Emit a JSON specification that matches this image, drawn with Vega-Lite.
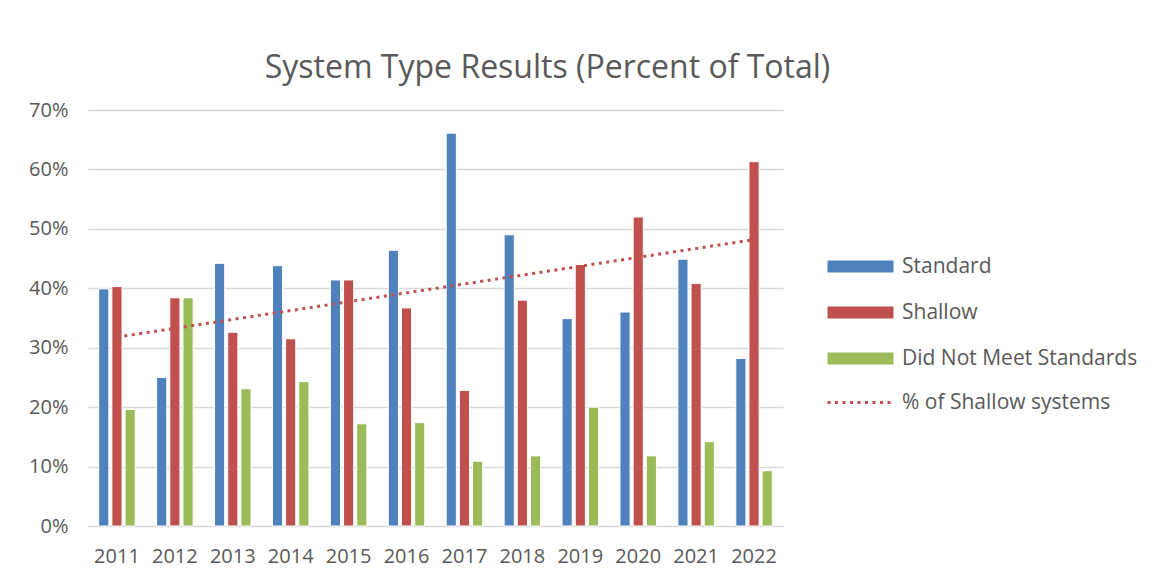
{
  "$schema": "https://vega.github.io/schema/vega-lite/v6.json",
  "width": 695,
  "height": 416,
  "autosize": {"type": "none"},
  "padding": {"left": 88, "top": 110, "right": 369, "bottom": 58},
  "background": "white",
  "title": {
    "text": "System Type Results (Percent of Total)",
    "font": "Open Sans",
    "fontSize": 32,
    "fontWeight": "normal",
    "color": "#595959",
    "anchor": "middle",
    "dx": 112,
    "offset": 15
  },
  "data": {
    "values": [
      {"year": 2011, "series": "Standard", "value": 0.399},
      {"year": 2011, "series": "Shallow", "value": 0.403},
      {"year": 2011, "series": "Did Not Meet Standards", "value": 0.196},
      {"year": 2012, "series": "Standard", "value": 0.250},
      {"year": 2012, "series": "Shallow", "value": 0.384},
      {"year": 2012, "series": "Did Not Meet Standards", "value": 0.384},
      {"year": 2013, "series": "Standard", "value": 0.442},
      {"year": 2013, "series": "Shallow", "value": 0.326},
      {"year": 2013, "series": "Did Not Meet Standards", "value": 0.231},
      {"year": 2014, "series": "Standard", "value": 0.438},
      {"year": 2014, "series": "Shallow", "value": 0.315},
      {"year": 2014, "series": "Did Not Meet Standards", "value": 0.243},
      {"year": 2015, "series": "Standard", "value": 0.414},
      {"year": 2015, "series": "Shallow", "value": 0.414},
      {"year": 2015, "series": "Did Not Meet Standards", "value": 0.172},
      {"year": 2016, "series": "Standard", "value": 0.464},
      {"year": 2016, "series": "Shallow", "value": 0.367},
      {"year": 2016, "series": "Did Not Meet Standards", "value": 0.174},
      {"year": 2017, "series": "Standard", "value": 0.661},
      {"year": 2017, "series": "Shallow", "value": 0.228},
      {"year": 2017, "series": "Did Not Meet Standards", "value": 0.109},
      {"year": 2018, "series": "Standard", "value": 0.490},
      {"year": 2018, "series": "Shallow", "value": 0.380},
      {"year": 2018, "series": "Did Not Meet Standards", "value": 0.118},
      {"year": 2019, "series": "Standard", "value": 0.349},
      {"year": 2019, "series": "Shallow", "value": 0.440},
      {"year": 2019, "series": "Did Not Meet Standards", "value": 0.200},
      {"year": 2020, "series": "Standard", "value": 0.360},
      {"year": 2020, "series": "Shallow", "value": 0.520},
      {"year": 2020, "series": "Did Not Meet Standards", "value": 0.118},
      {"year": 2021, "series": "Standard", "value": 0.449},
      {"year": 2021, "series": "Shallow", "value": 0.408},
      {"year": 2021, "series": "Did Not Meet Standards", "value": 0.142},
      {"year": 2022, "series": "Standard", "value": 0.282},
      {"year": 2022, "series": "Shallow", "value": 0.613},
      {"year": 2022, "series": "Did Not Meet Standards", "value": 0.093}
    ]
  },
  "layer": [
    {
      "mark": {"type": "bar", "stroke": "white", "strokeWidth": 1},
      "encoding": {
        "x": {
          "field": "year",
          "type": "ordinal",
          "scale": {"paddingInner": 0.37, "paddingOuter": 0.185},
          "axis": {
            "title": null,
            "domain": false,
            "ticks": false,
            "labelAngle": 0,
            "labelPadding": 20,
            "labelFont": "Open Sans",
            "labelFontSize": 20,
            "labelColor": "#595959"
          }
        },
        "xOffset": {
          "field": "series",
          "type": "nominal",
          "sort": ["Standard", "Shallow", "Did Not Meet Standards"],
          "scale": {"paddingInner": 0.23, "paddingOuter": 0}
        },
        "y": {
          "field": "value",
          "type": "quantitative",
          "scale": {"domain": [0, 0.7], "nice": false},
          "axis": {
            "title": null,
            "format": ".0%",
            "values": [0, 0.1, 0.2, 0.3, 0.4, 0.5, 0.6, 0.7],
            "domain": false,
            "ticks": false,
            "labelPadding": 20,
            "labelFont": "Open Sans",
            "labelFontSize": 20,
            "labelColor": "#595959",
            "gridColor": "#D9D9D9",
            "gridWidth": 1.5
          }
        },
        "color": {
          "field": "series",
          "type": "nominal",
          "scale": {
            "domain": ["Standard", "Shallow", "Did Not Meet Standards"],
            "range": ["#4F81BD", "#C0504D", "#9BBB59"]
          },
          "legend": {
            "orient": "none",
            "legendX": 729,
            "legendY": 146,
            "title": null,
            "padding": 0,
            "labelFont": "Open Sans",
            "labelFontSize": 21,
            "labelColor": "#595959",
            "labelLimit": 400,
            "rowPadding": 24,
            "symbolType": "M0,-1H11V1H0Z",
            "symbolSize": 144,
            "labelOffset": 64,
            "symbolStrokeWidth": 0,
            "symbolOpacity": 1
          }
        }
      }
    },
    {
      "transform": [
        {"filter": "datum.series === 'Shallow'"},
        {"regression": "value", "on": "year"}
      ],
      "mark": {"type": "line", "color": "#C0504D", "strokeWidth": 3, "strokeCap": "butt"},
      "encoding": {
        "x": {"field": "year", "type": "ordinal"},
        "y": {"field": "value", "type": "quantitative"},
        "strokeDash": {
          "datum": "% of Shallow systems",
          "type": "nominal",
          "scale": {"range": [[3, 4.5]]},
          "legend": {
            "orient": "none",
            "legendX": 729,
            "legendY": 282,
            "title": null,
            "padding": 0,
            "labelFont": "Open Sans",
            "labelFontSize": 21,
            "labelColor": "#595959",
            "labelLimit": 400,
            "symbolType": "M0,0H11",
            "symbolSize": 144,
            "labelOffset": 64,
            "symbolStrokeWidth": 3,
            "symbolStrokeColor": "#C0504D",
            "symbolOpacity": 1
          }
        }
      }
    }
  ],
  "config": {
    "view": {"stroke": null},
    "font": "Open Sans"
  }
}
